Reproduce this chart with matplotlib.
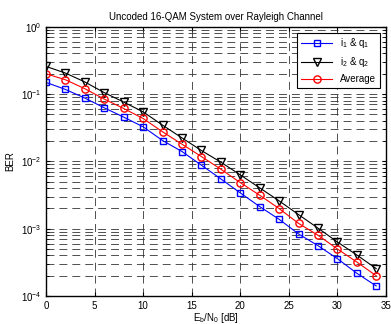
import matplotlib
matplotlib.use("Agg")
import matplotlib.pyplot as plt
import numpy as np

plt.rcParams['font.family'] = ['Liberation Sans', 'DejaVu Sans']
plt.rcParams['mathtext.fontset'] = 'custom'
plt.rcParams['mathtext.rm'] = 'Liberation Sans'
plt.rcParams['mathtext.it'] = 'Liberation Sans'

ebn0 = [0, 2, 4, 6, 8, 10, 12, 14, 16, 18, 20, 22, 24, 26, 28, 30, 32, 34]
ber_i1q1 = [0.149, 0.117, 0.0871, 0.0624, 0.0454, 0.0326, 0.0204, 0.0140, 0.00877, 0.00549,
            0.0034, 0.00213, 0.00138, 0.000836, 0.00056, 0.000359, 0.000218, 0.000141]
ber_i2q2 = [0.257, 0.205, 0.151, 0.105, 0.0759, 0.0544, 0.0345, 0.0223, 0.0145, 0.00973,
            0.0063, 0.00404, 0.00259, 0.00162, 0.00102, 0.000635, 0.000407, 0.000255]
ber_avg = [0.2, 0.163, 0.12, 0.0841, 0.061, 0.0433, 0.0275, 0.018, 0.0118, 0.00765,
           0.00484, 0.00314, 0.00199, 0.0012, 0.0008, 0.0005, 0.00032, 0.0002]
labels = ['i$_1$ & q$_1$', 'i$_2$ & q$_2$', 'Average']
title = 'Uncoded 16-QAM System over Rayleigh Channel'
xlabel = 'E$_b$/N$_0$ [dB]'
ylabel = 'BER'

fig = plt.figure(figsize=(3.91, 3.24), dpi=100)
ax = fig.add_axes([0.1176, 0.0864, 0.8694, 0.8312])

ax.semilogy(ebn0, ber_i1q1, '-s', color='#0000ff', mfc='none', ms=4.8, lw=0.8, mew=1.0, label=labels[0])
ax.semilogy(ebn0, ber_i2q2, '-v', color='black', mfc='none', ms=5.2, lw=0.8, mew=1.0, label=labels[1])
ax.semilogy(ebn0, ber_avg, '-o', color='#ff0000', mfc='none', ms=5.2, lw=0.8, mew=1.0, label=labels[2])

ax.set_xlim(0, 35)
ax.set_ylim(1e-4, 1)
ax.set_xticks(np.arange(0, 36, 5))
dash = (0, (9.5, 6))
ax.grid(True, which='major', color='0.2', linestyle=dash, linewidth=0.6)
ax.grid(True, which='minor', axis='y', color='0.2', linestyle=dash, linewidth=0.6)
ax.tick_params(which='both', direction='in', top=True, right=True, labelsize=7, length=3)
ax.tick_params(which='minor', length=2)
for s in ax.spines.values():
    s.set_linewidth(1.0)

ax.set_title(title, fontsize=7, pad=5)
ax.set_xlabel(xlabel, fontsize=7, labelpad=0)
ax.set_ylabel(ylabel, fontsize=7, labelpad=4)

leg = ax.legend(loc='upper right', fontsize=7, frameon=True, fancybox=False, edgecolor='black',
                framealpha=1, borderaxespad=0.6, handlelength=3.2, labelspacing=0.5, borderpad=0.4)
leg.get_frame().set_linewidth(0.8)

fig.savefig('out.png', dpi=100)
